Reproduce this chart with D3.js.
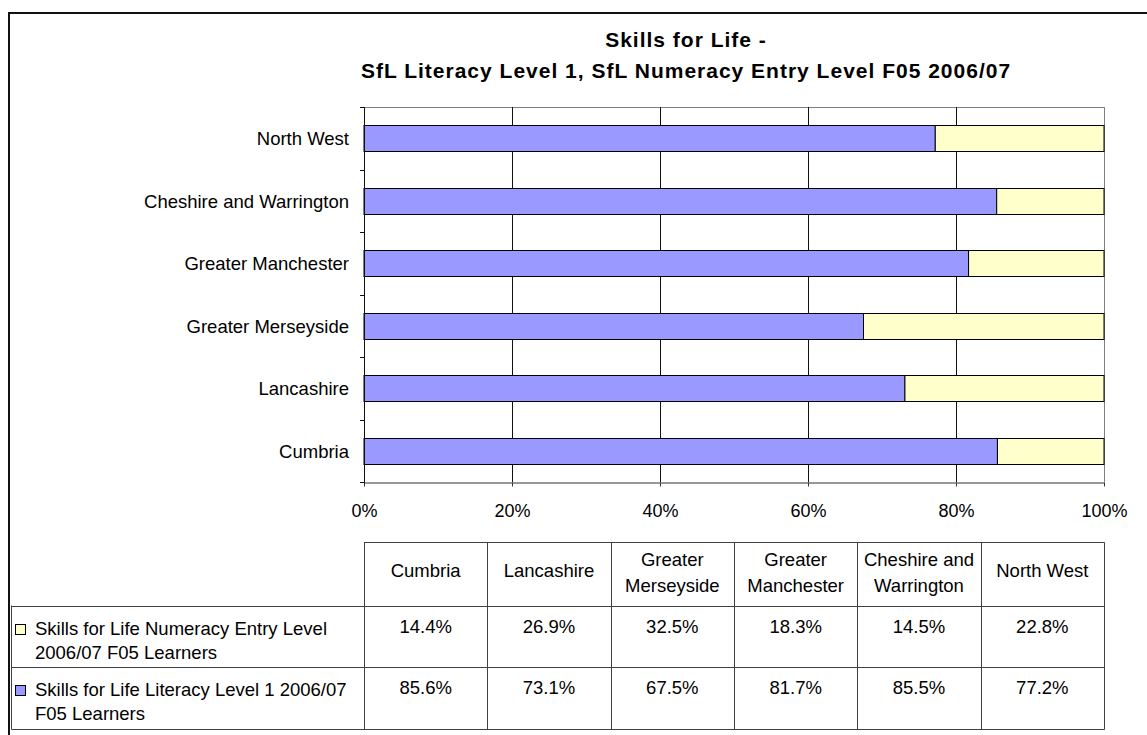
<!DOCTYPE html>
<html>
<head>
<meta charset="utf-8">
<script src="https://cdn.jsdelivr.net/npm/d3@7"></script>
<style>
  body { margin: 0; background: #fff; }
  text { font-family: Arial, "Liberation Sans", sans-serif; fill: #000; }
</style>
</head>
<body>
<svg id="chart"></svg>
<script>
// data (table order, bottom to top in the chart)
var areas = ["Cumbria", "Lancashire", "Greater Merseyside", "Greater Manchester", "Cheshire and Warrington", "North West"];
var literacy = [85.6, 73.1, 67.5, 81.7, 85.5, 77.2];
var numeracy = [14.4, 26.9, 32.5, 18.3, 14.5, 22.8];
var seriesNames = [
  ["Skills for Life Numeracy Entry Level", "2006/07 F05 Learners"],
  ["Skills for Life Literacy Level 1 2006/07", "F05 Learners"]
];
var xTicks = [0, 20, 40, 60, 80, 100];
var titleLines = ["Skills for Life -", "SfL Literacy Level 1, SfL Numeracy Entry Level F05 2006/07"];

var width = 1147, height = 735;
var plot = { left: 364, right: 1104, top: 107, bottom: 482 };
var colors = { literacy: "#9999FF", numeracy: "#FFFFCC" };

var svg = d3.select("#chart").attr("width", width).attr("height", height);

// chart area border (only left and top are inside the picture)
svg.append("path")
  .attr("d", "M9," + height + "V13H" + width)
  .attr("fill", "none").attr("stroke", "#111").attr("stroke-width", 2);

// title
svg.append("text")
  .attr("x", 686).attr("text-anchor", "middle")
  .style("font-weight", "bold").style("font-size", "21px").style("letter-spacing", "1px")
  .selectAll("tspan").data(titleLines).enter().append("tspan")
  .attr("x", 686).attr("y", function(d, i) { return 47 + i * 31; })
  .text(function(d) { return d; });

// scales
var x = d3.scaleLinear().domain([0, 100]).range([plot.left, plot.right]);
var y = d3.scaleBand().domain(areas.slice().reverse())
  .range([plot.top, plot.bottom]).paddingInner(0.584).paddingOuter(0.292);

// plot border top/right
svg.append("path")
  .attr("d", "M" + plot.left + "," + (plot.top + 0.5) + "H" + (plot.right + 0.5) + "V" + plot.bottom)
  .attr("fill", "none").attr("stroke", "#808080");

// gridlines
svg.append("g").selectAll("line").data(xTicks.slice(1)).enter().append("line")
  .attr("x1", function(d) { return Math.round(x(d)) + 0.5; })
  .attr("x2", function(d) { return Math.round(x(d)) + 0.5; })
  .attr("y1", plot.top).attr("y2", plot.bottom)
  .attr("stroke", function(d) { return d === 100 ? "#808080" : "#111"; });

// stacked bars
var rows = areas.map(function(a, i) { return { area: a, lit: literacy[i], num: numeracy[i] }; });

var g = svg.append("g").selectAll("g").data(rows).enter().append("g");
g.append("rect")
  .attr("x", x(0))
  .attr("y", function(d) { return Math.round(y(d.area)) + 0.5; })
  .attr("width", function(d) { return x(d.lit) - x(0); })
  .attr("height", Math.round(y.bandwidth()))
  .attr("fill", colors.literacy).attr("stroke", "#000");
g.append("rect")
  .attr("x", function(d) { return x(d.lit); })
  .attr("y", function(d) { return Math.round(y(d.area)) + 0.5; })
  .attr("width", function(d) { return x(d.lit + d.num) - x(d.lit); })
  .attr("height", Math.round(y.bandwidth()))
  .attr("fill", colors.numeracy).attr("stroke", "#000");

// y axis: line, ticks at band boundaries, labels
svg.append("line")
  .attr("x1", plot.left + 0.5).attr("x2", plot.left + 0.5)
  .attr("y1", plot.top).attr("y2", plot.bottom + 4)
  .attr("stroke", "#111");
svg.append("g").selectAll("line").data(d3.range(areas.length + 1)).enter().append("line")
  .attr("x1", plot.left - 4).attr("x2", plot.left)
  .attr("y1", function(i) { return Math.round(plot.top + i * y.step()) + 0.5; })
  .attr("y2", function(i) { return Math.round(plot.top + i * y.step()) + 0.5; })
  .attr("stroke", "#111");
svg.append("g").selectAll("text").data(areas).enter().append("text")
  .attr("x", 349)
  .attr("y", function(d) { return y(d) + y.bandwidth() / 2 + 7; })
  .attr("text-anchor", "end")
  .style("font-size", "18.5px")
  .text(function(d) { return d; });

// x axis
var xAxis = d3.axisBottom(x)
  .tickValues(xTicks)
  .tickFormat(function(d) { return d + "%"; })
  .tickSizeInner(4).tickSizeOuter(0).tickPadding(18);
var ax = svg.append("g")
  .attr("transform", "translate(0," + (plot.bottom + 0.5) + ")")
  .call(xAxis);
ax.select(".domain").attr("stroke", "#333");
ax.selectAll(".tick line").attr("stroke", "#333");
ax.selectAll(".tick text")
  .style("font-family", "Arial, 'Liberation Sans', sans-serif")
  .style("font-size", "18px").attr("fill", "#000");

// data table
var col = d3.scaleBand().domain(areas).range([plot.left, plot.right]);
var tTop = 542.5, hdrBottom = 605.5, rowH = 61.5, legendLeft = 11.5;
var lineColor = "#404040";
var tg = svg.append("g");

// horizontal lines
tg.append("line").attr("x1", plot.left).attr("x2", plot.right + 0.5)
  .attr("y1", tTop).attr("y2", tTop).attr("stroke", lineColor);
[0, 1, 2].forEach(function(k) {
  tg.append("line").attr("x1", legendLeft).attr("x2", plot.right + 0.5)
    .attr("y1", Math.round(hdrBottom + k * rowH) + 0.5).attr("y2", Math.round(hdrBottom + k * rowH) + 0.5)
    .attr("stroke", lineColor);
});
var tBottom = Math.round(hdrBottom + 2 * rowH) + 0.5;
// vertical lines
tg.append("line").attr("x1", legendLeft).attr("x2", legendLeft)
  .attr("y1", hdrBottom).attr("y2", tBottom).attr("stroke", lineColor);
tg.selectAll("line.col").data(areas.concat(["end"])).enter().append("line")
  .attr("class", "col")
  .attr("x1", function(d, i) { return Math.round(i < areas.length ? col(d) : plot.right) + 0.5; })
  .attr("x2", function(d, i) { return Math.round(i < areas.length ? col(d) : plot.right) + 0.5; })
  .attr("y1", tTop).attr("y2", tBottom).attr("stroke", lineColor);

// header cells, wrapped to the column width
function wrapWords(text, maxW, size) {
  var probe = svg.append("text").style("font-size", size);
  var words = text.split(" "), lines = [], cur = "";
  words.forEach(function(w) {
    var test = cur ? cur + " " + w : w;
    probe.text(test);
    if (cur && probe.node().getComputedTextLength() > maxW) { lines.push(cur); cur = w; }
    else cur = test;
  });
  lines.push(cur);
  probe.remove();
  return lines;
}
areas.forEach(function(a) {
  var lines = wrapWords(a, col.bandwidth() - 6, "18.5px");
  var cx = col(a) + col.bandwidth() / 2;
  var base = lines.length === 1 ? 577 : 566;
  var t = tg.append("text").attr("text-anchor", "middle").style("font-size", "18.5px");
  lines.forEach(function(l, i) {
    t.append("tspan").attr("x", cx).attr("y", base + i * 26).text(l);
  });
});

// series rows: legend key, name, values
var seriesValues = [numeracy, literacy];
var seriesColors = [colors.numeracy, colors.literacy];
seriesValues.forEach(function(vals, s) {
  var top = hdrBottom + s * rowH;
  tg.append("rect")
    .attr("x", 15.5).attr("y", Math.round(top + 18) + 0.5)
    .attr("width", 10).attr("height", 10)
    .attr("fill", seriesColors[s]).attr("stroke", "#000");
  var t = tg.append("text").style("font-size", "18.5px");
  seriesNames[s].forEach(function(l, i) {
    t.append("tspan").attr("x", 35).attr("y", top + 29 + i * 24).text(l);
  });
  tg.selectAll(null).data(vals).enter().append("text")
    .attr("x", function(d, i) { return col(areas[i]) + col.bandwidth() / 2; })
    .attr("y", top + 27)
    .attr("text-anchor", "middle")
    .style("font-size", "18.5px")
    .text(function(d) { return d.toFixed(1) + "%"; });
});
</script>
</body>
</html>
